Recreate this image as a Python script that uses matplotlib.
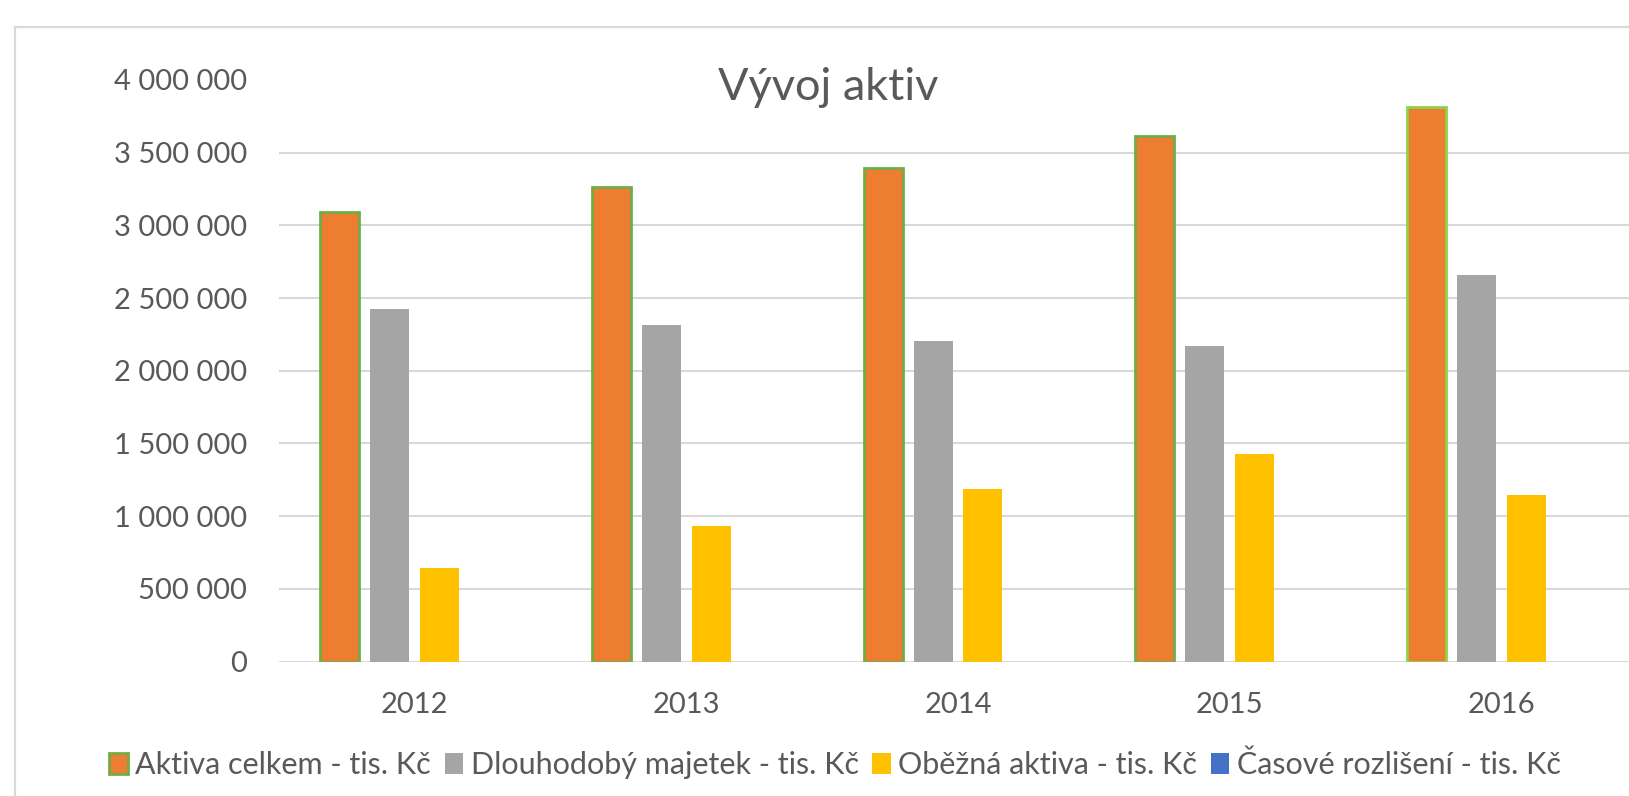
import matplotlib.pyplot as plt
from matplotlib.patches import Rectangle
from matplotlib.ticker import FuncFormatter
import numpy as np

plt.rcParams["font.family"] = ["Lato", "DejaVu Sans"]

# data (tis. Kč)
years = ["2012", "2013", "2014", "2015", "2016"]
aktiva_celkem = [3089000, 3261000, 3392000, 3613000, 3811000]
dlouhodoby_majetek = [2424000, 2314000, 2206000, 2170000, 2656000]
obezna_aktiva = [641000, 934000, 1184000, 1427000, 1142000]
casove_rozliseni = [0, 0, 0, 0, 0]

series_names = ["Aktiva celkem - tis. Kč", "Dlouhodobý majetek - tis. Kč",
                "Oběžná aktiva - tis. Kč", "Časové rozlišení - tis. Kč"]
colors = ["#ED7D31", "#A5A5A5", "#FFC000", "#4472C4"]
edge_aktiva = ["#70AD47", "#70AD47", "#70AD47", "#70AD47", "#92D050"]

TEXT = "#595959"
GRID = "#D9D9D9"

fig = plt.figure(figsize=(16.29, 7.96), dpi=100)
# outer chart frame, its right and bottom sides fall outside the picture
top = 1 - 27 / 796
fig.patches.append(Rectangle((15 / 1629, -0.2), 1.2, top + 0.2,
                             transform=fig.transFigure, fill=False,
                             edgecolor=GRID, linewidth=1.6))

ax = fig.add_axes([279 / 1629, (796 - 661.5) / 796, 1358 / 1629, 581.5 / 796])

x = np.arange(len(years))
pitch = 0.184
width = 0.1435
data = [aktiva_celkem, dlouhodoby_majetek, obezna_aktiva, casove_rozliseni]
handles = []
for j, vals in enumerate(data):
    pos = x + (j - 1.5) * pitch
    if j == 0:
        b = ax.bar(pos, vals, width, color=colors[j], edgecolor=edge_aktiva,
                   linewidth=2.0, zorder=3, label=series_names[j])
    else:
        b = ax.bar(pos, vals, width, color=colors[j], linewidth=0,
                   zorder=3, label=series_names[j])
    handles.append(b)

ax.set_xlim(-0.5, len(years) - 0.5)
ax.set_ylim(0, 4000000)
ax.set_yticks(np.arange(0, 4000001, 500000))
ax.yaxis.set_major_formatter(FuncFormatter(lambda v, p: f"{int(v):,}".replace(",", " ")))
ax.set_xticks(x)
ax.set_xticklabels(years)

for s in ax.spines.values():
    s.set_visible(False)
ax.tick_params(axis="both", length=0, labelsize=21, labelcolor=TEXT)
ax.tick_params(axis="y", pad=23)
ax.tick_params(axis="x", pad=22)
ax.yaxis.grid(True, color=GRID, linewidth=1.5, zorder=0)
ax.yaxis.get_gridlines()[-1].set_visible(False)
ax.set_axisbelow(True)

fig.text(828 / 1629, 1 - 87 / 796, "Vývoj aktiv", ha="center", va="center",
         fontsize=32.5, color=TEXT)

leg = fig.legend(handles=handles, loc="center", bbox_to_anchor=(835 / 1629, 1 - 765 / 796),
                 ncol=4, frameon=False, fontsize=22, handlelength=0.6, handleheight=0.65,
                 handletextpad=0.25, columnspacing=0.45, labelcolor=TEXT)

fig.savefig("out.png", dpi=100)
